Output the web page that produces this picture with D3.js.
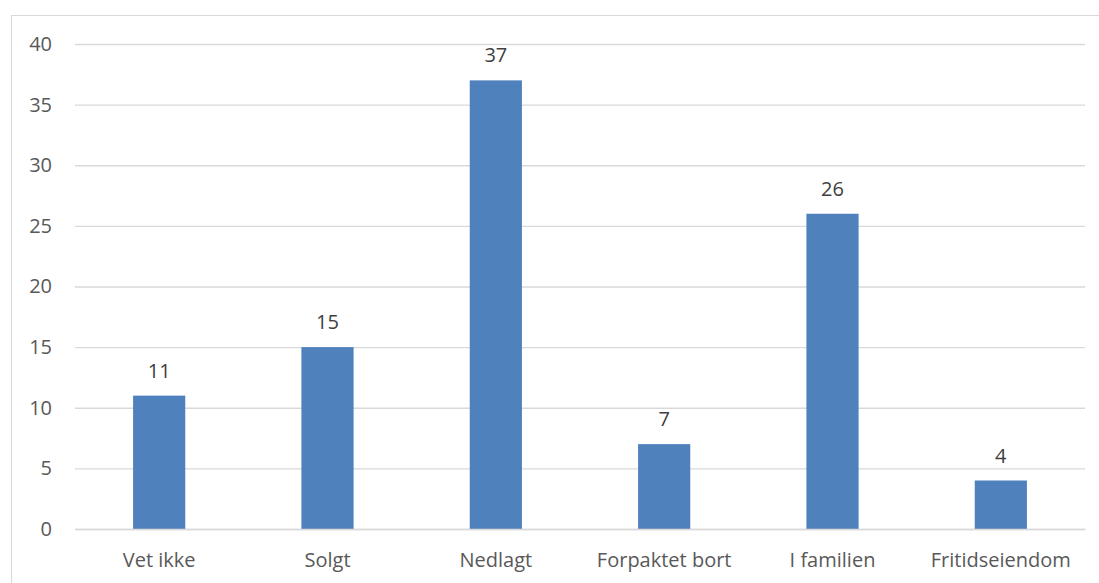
<!DOCTYPE html>
<html><head><meta charset="utf-8">
<script src="https://cdn.jsdelivr.net/npm/d3@7"></script>
<style>body{margin:0;background:#fff}svg{display:block}</style>
</head><body>
<svg id="c" width="1099" height="583"></svg>
<script>
const categories = ["Vet ikke","Solgt","Nedlagt","Forpaktet bort","I familien","Fritidseiendom"];
const values = [11,15,37,7,26,4];
const yTicks = [0,5,10,15,20,25,30,35,40];

const svg = d3.select("#c");
const font = "'Open Sans', sans-serif";
const W = 1099, H = 583;
const m = {l:75, r:1085, t:44, b:529};

svg.append("rect").attr("x",11.5).attr("y",15.5).attr("width",W+20).attr("height",H+20)
  .attr("fill","#fff").attr("stroke","#d9d9d9").attr("stroke-width",1);

const x = d3.scaleBand().domain(categories).range([m.l,m.r]).paddingInner(0.69).paddingOuter(0.345);
const y = d3.scaleLinear().domain([0,40]).range([m.b,m.t]);

const gy = svg.append("g").attr("transform",`translate(${m.l},0)`)
  .call(d3.axisLeft(y).tickValues(yTicks).tickSize(-(m.r-m.l)).tickPadding(23));
gy.select(".domain").remove();
gy.selectAll(".tick line").attr("stroke","#d9d9d9").attr("stroke-width",1.3);
gy.selectAll(".tick text").attr("fill","#595959").style("font-family",font).style("font-size","20px");

const bars = svg.append("g");
bars.selectAll("rect").data(values).join("rect")
  .attr("x",(d,i)=>x(categories[i]))
  .attr("width",x.bandwidth())
  .attr("y",d=>y(d))
  .attr("height",d=>y(0)-y(d))
  .attr("fill","#4f81bd");

svg.append("g").selectAll("text").data(values).join("text")
  .attr("x",(d,i)=>x(categories[i])+x.bandwidth()/2)
  .attr("y",d=>y(d)-18)
  .attr("text-anchor","middle")
  .attr("fill","#404040")
  .style("font-family",font).style("font-size","20px")
  .text(d=>d);

const gx = svg.append("g").attr("transform",`translate(0,${m.b})`)
  .call(d3.axisBottom(x).tickSize(0).tickPadding(24));
gx.select(".domain").attr("stroke","#d9d9d9").attr("stroke-width",1.3);
gx.selectAll(".tick text").attr("fill","#595959").style("font-family",font).style("font-size","20px");
</script>
</body></html>
